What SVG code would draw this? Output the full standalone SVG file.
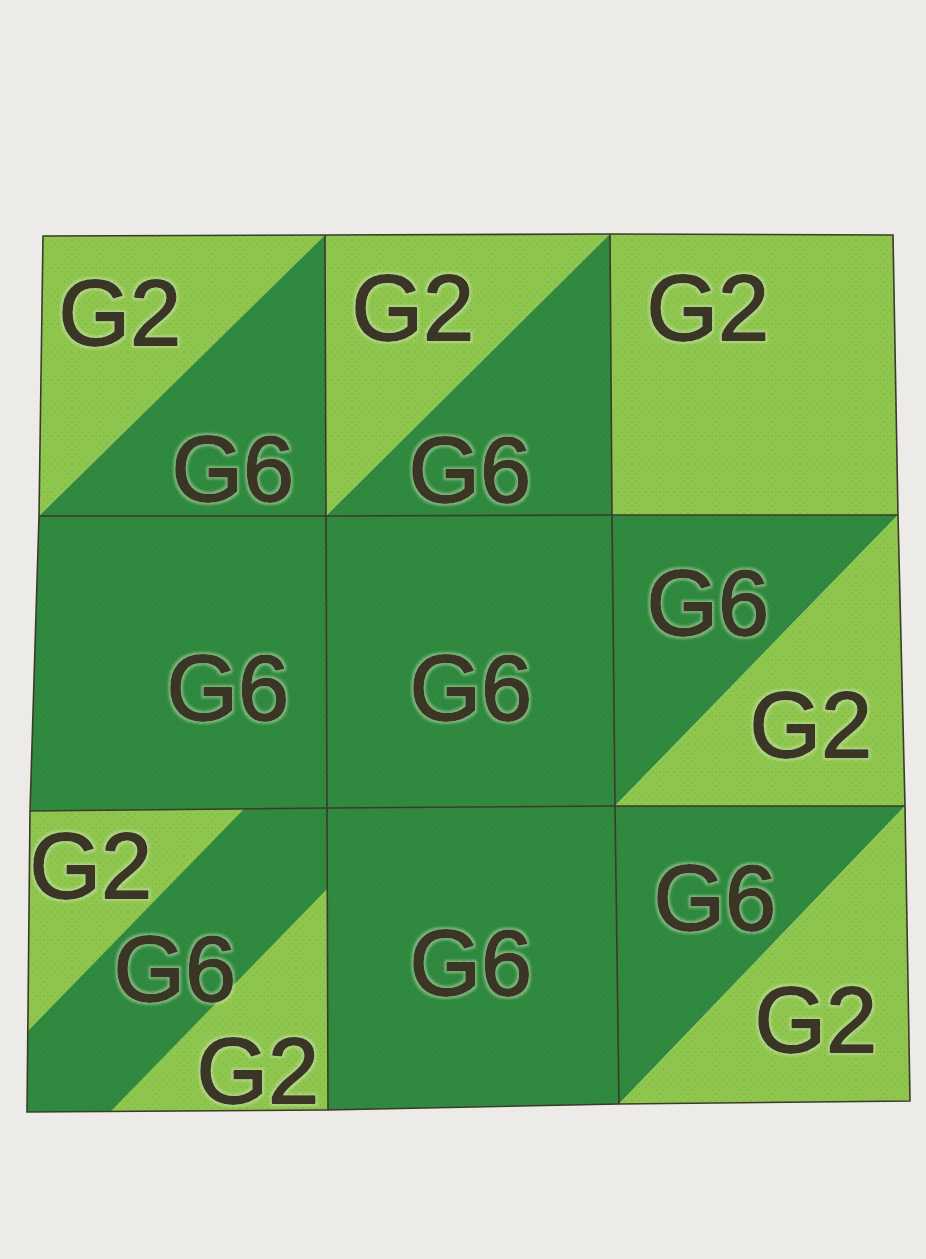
<svg xmlns="http://www.w3.org/2000/svg" width="926" height="1259" viewBox="0 0 926 1259">
<defs>
<style>
.lt{fill:#8fc64e}
.dk{fill:#2f8a3f}
.lbl{font-family:"Liberation Sans",Arial,sans-serif;font-size:92px;fill:#3a3528;stroke:#3a3528;stroke-width:1.8;stroke-linejoin:round;filter:url(#halo)}
.grid{fill:none;stroke:#3d3a2a;stroke-width:1.6}
</style>
<filter id="halo" x="-10%" y="-20%" width="120%" height="140%">
<feMorphology in="SourceAlpha" operator="dilate" radius="2" result="d"/>
<feGaussianBlur in="d" stdDeviation="1" result="b"/>
<feFlood flood-color="#d8e8c0" flood-opacity="0.45"/>
<feComposite in2="b" operator="in" result="h"/>
<feMerge><feMergeNode in="h"/><feMergeNode in="SourceGraphic"/></feMerge>
</filter>
<pattern id="dots" width="7" height="7" patternUnits="userSpaceOnUse">
<circle cx="2" cy="2" r="0.7" fill="#2a3a1a" opacity="0.22"/>
<circle cx="5.5" cy="5.5" r="0.6" fill="#2a3a1a" opacity="0.18"/>
</pattern>
</defs>
<rect width="926" height="1259" fill="#ecebe8"/>
<g id="cell-r1c1">
<polygon class="lt" points="43,236 325,235 39,516"/>
<polygon class="dk" points="325,235 326,516 39,516"/>
<text class="lbl" x="58.5" y="345">G2</text>
<text class="lbl" x="171.5" y="501">G6</text>
</g>
<g id="cell-r1c2">
<polygon class="lt" points="325,235 610,234 326,516"/>
<polygon class="dk" points="610,234 612,515 326,516"/>
<text class="lbl" x="351.5" y="340">G2</text>
<text class="lbl" x="408.5" y="502">G6</text>
</g>
<g id="cell-r1c3">
<polygon class="lt" points="610,234 893,235 898,515 612,515"/>
<text class="lbl" x="646.5" y="340">G2</text>
</g>
<g id="cell-r2c1">
<polygon class="dk" points="39,516 326,516 327,808 30,811"/>
<text class="lbl" x="166.5" y="720">G6</text>
</g>
<g id="cell-r2c2">
<polygon class="dk" points="326,516 612,515 615,806 327,808"/>
<text class="lbl" x="409.5" y="720">G6</text>
</g>
<g id="cell-r2c3">
<polygon class="dk" points="612,515 898,515 615,806"/>
<polygon class="lt" points="898,515 905,806 615,806"/>
<text class="lbl" x="646.5" y="635">G6</text>
<text class="lbl" x="749.5" y="757">G2</text>
</g>
<g id="cell-r3c1">
<polygon class="dk" points="30,811 327,808 328,1110 27,1112"/>
<polygon class="lt" points="30,811 244,809 28,1031"/>
<polygon class="lt" points="327,889 328,1110 111,1111"/>
<text class="lbl" x="29.5" y="898">G2</text>
<text class="lbl" x="113.5" y="1001">G6</text>
<text class="lbl" x="196.5" y="1103">G2</text>
</g>
<g id="cell-r3c2">
<polygon class="dk" points="327,808 615,806 619,1104 328,1110"/>
<text class="lbl" x="409.5" y="995">G6</text>
</g>
<g id="cell-r3c3">
<polygon class="dk" points="615,806 905,806 619,1104"/>
<polygon class="lt" points="905,806 910,1101 619,1104"/>
<text class="lbl" x="653.5" y="930">G6</text>
<text class="lbl" x="754.5" y="1052">G2</text>
</g>
<polygon points="43,236 325,235 610,234 893,235 898,515 905,806 910,1101 619,1104 328,1110 27,1112 30,811 39,516" fill="url(#dots)" pointer-events="none"/>
<g id="grid-lines">
<polygon class="grid" points="43,236 325,235 610,234 893,235 898,515 905,806 910,1101 619,1104 328,1110 27,1112 30,811 39,516"/>
<polyline class="grid" points="39,516 326,516 612,515 898,515"/>
<polyline class="grid" points="30,811 327,808 615,806 905,806"/>
<polyline class="grid" points="325,235 326,516 327,808 328,1110"/>
<polyline class="grid" points="610,234 612,515 615,806 619,1104"/>
</g>
</svg>
